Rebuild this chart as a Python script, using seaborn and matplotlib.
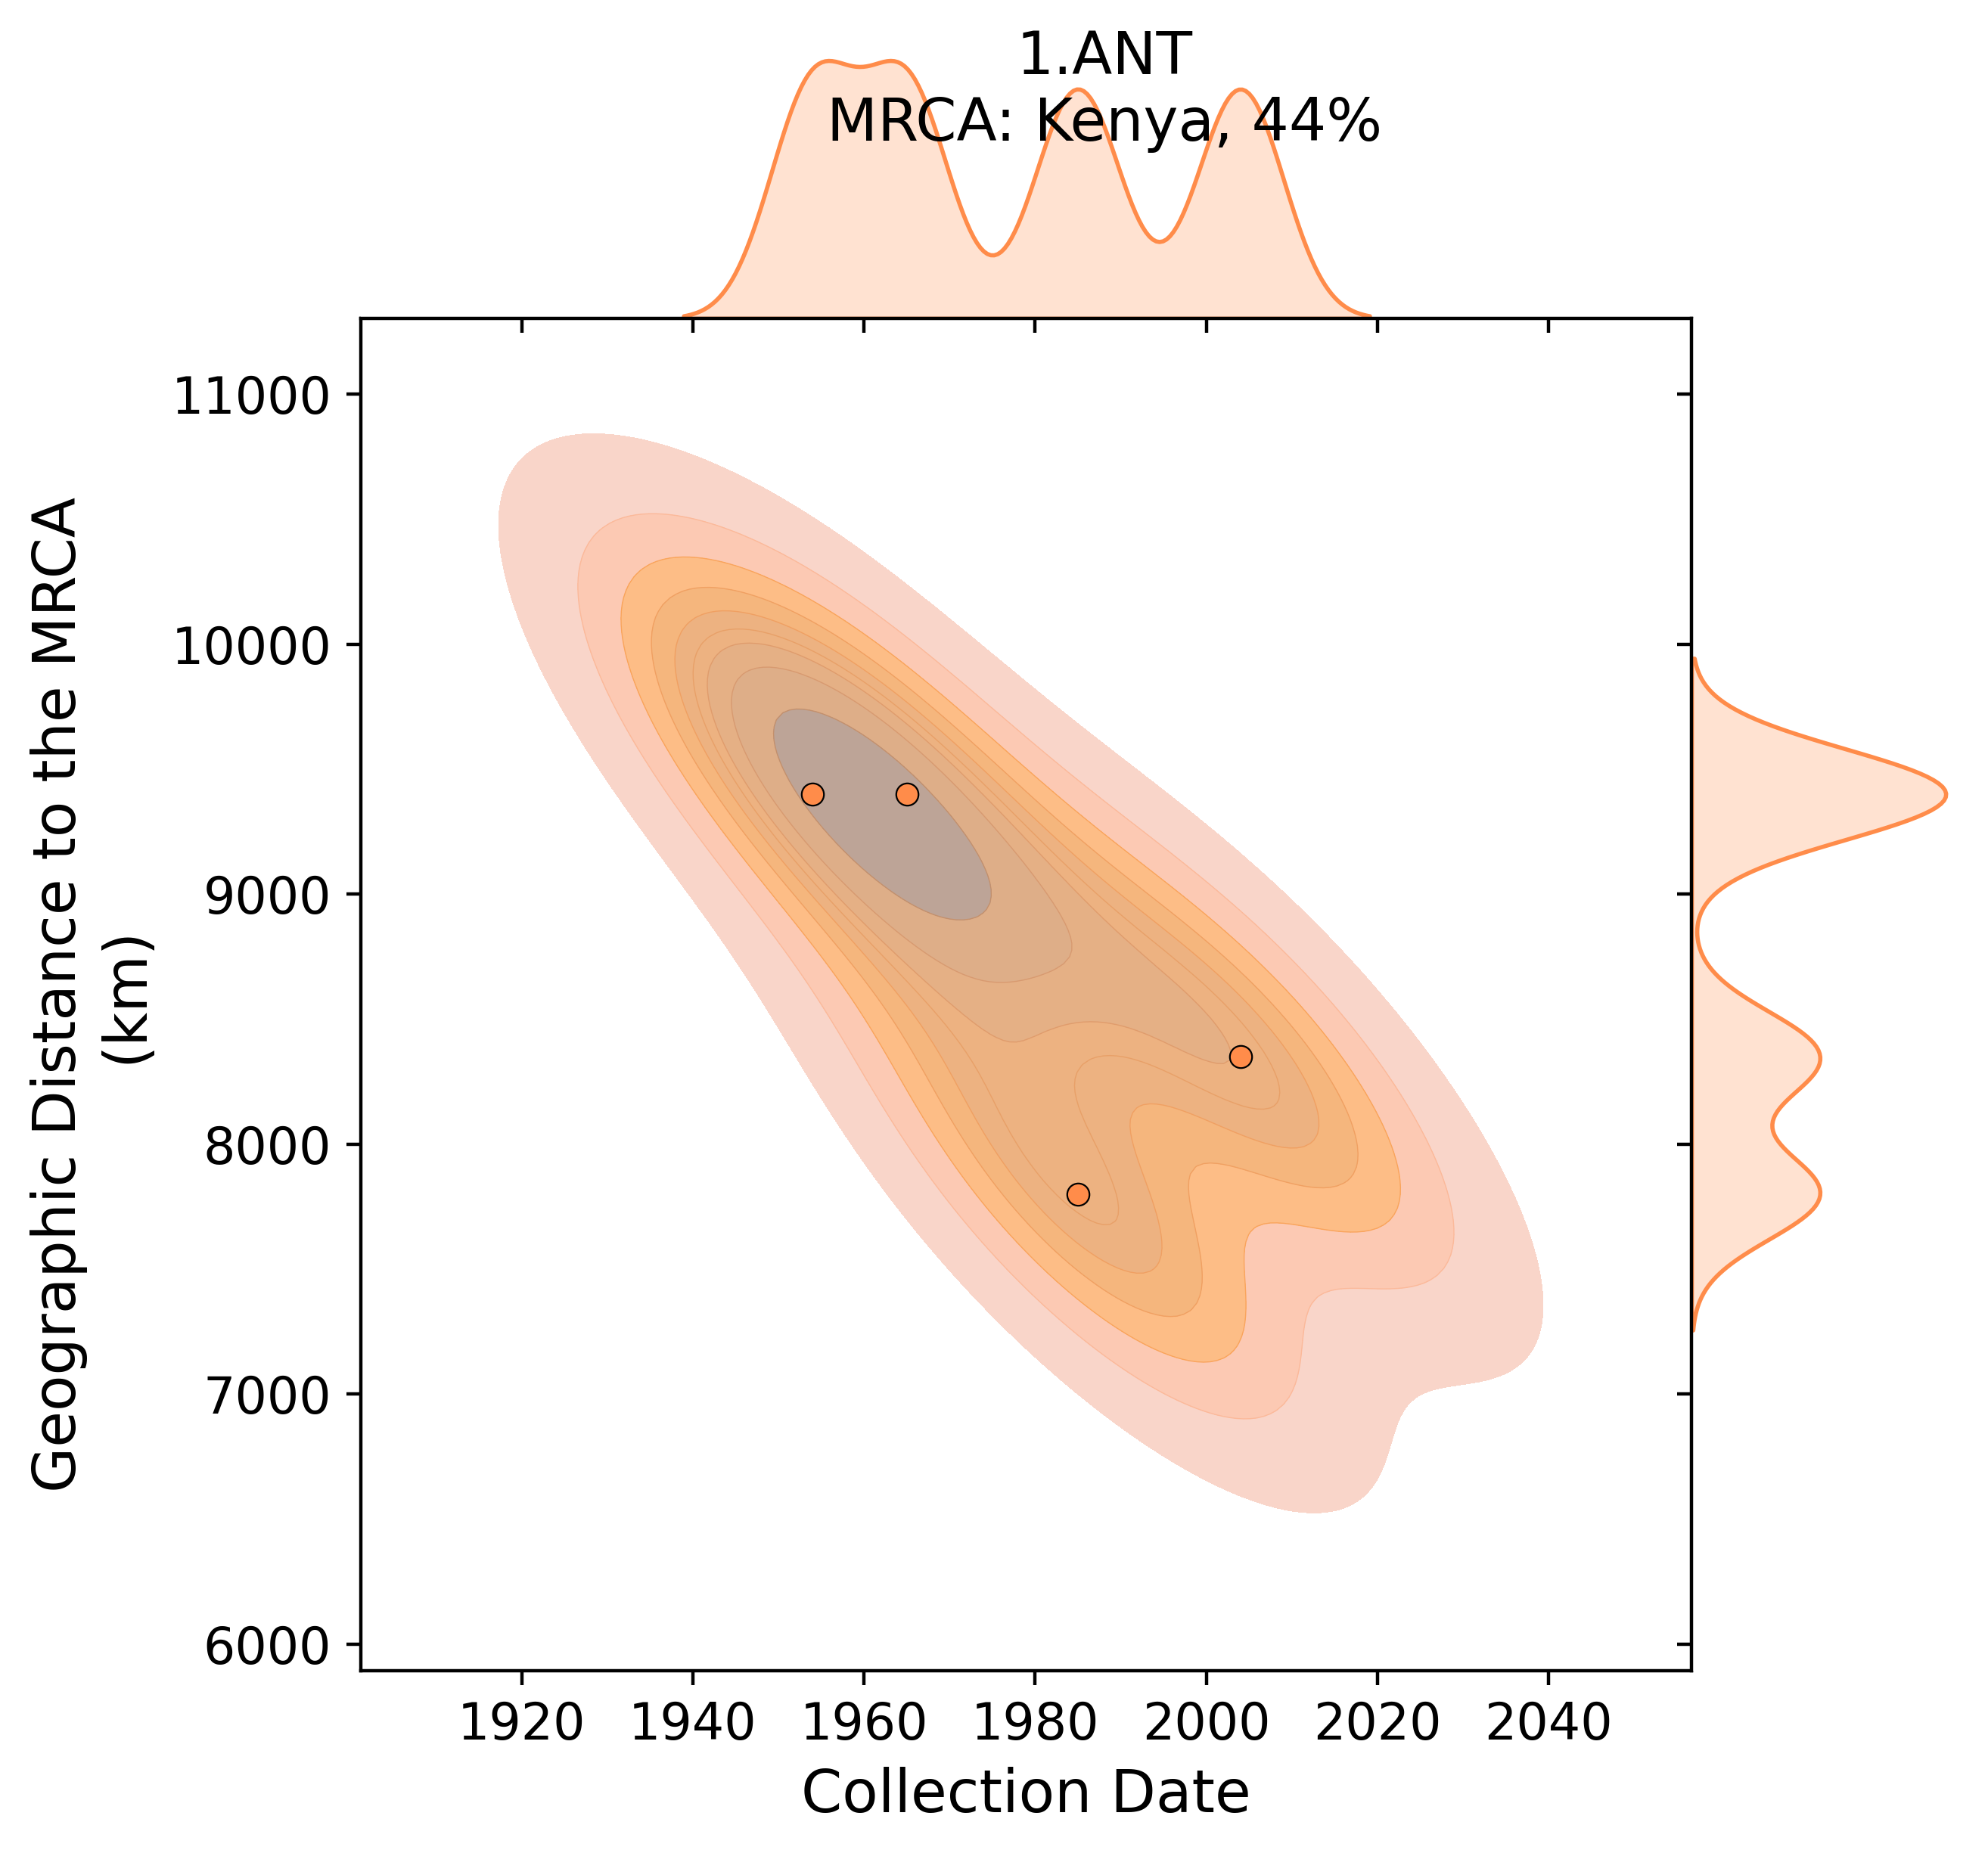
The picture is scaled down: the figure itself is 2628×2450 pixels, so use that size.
#!/usr/bin/env python3
# joint kde of collection date vs distance to the MRCA
import matplotlib
matplotlib.use('Agg')
import matplotlib.pyplot as plt
from matplotlib.colors import ListedColormap
import numpy as np
import pandas as pd
import seaborn as sns

collection_date = [1954, 1965, 1985, 2004]
distance_km = [9400, 9400, 7800, 8350]

# colours of the filled levels, outer to inner, and of the lines between them
fill_colors = ['#f9d5c9', '#fcc9b3', '#fdbd86', '#f5b67d', '#edb281', '#e5b085',
               '#deae88', '#d2a78f', '#bda497']
edge_colors = ['#fbb99a', '#f9a45c', '#f0a062', '#e8a068', '#e09c6c', '#d89a70',
               '#c4906c', '#ac8a72']
line_color = '#ff8c4a'

df = pd.DataFrame({'date': collection_date, 'dist': distance_km})

W, H = 2628, 2450
DPI = 400
g = sns.JointGrid(data=df, x='date', y='dist')
g.figure.set_size_inches(W / DPI, H / DPI)

# axes placement, in pixels of the final image
g.ax_joint.set_position([477 / W, 1 - 2209 / H, 1759 / W, 1788 / H])
g.ax_marg_x.set_position([477 / W, 1 - 421 / H, 1759 / W, 358 / H])
g.ax_marg_y.set_position([2236 / W, 1 - 2209 / H, 353 / W, 1788 / H])

sns.kdeplot(data=df, x='date', y='dist', ax=g.ax_joint, fill=True,
            levels=10, thresh=0.05, cmap=ListedColormap(fill_colors))
# thin lines between levels, none round the outermost one
sns.kdeplot(data=df, x='date', y='dist', ax=g.ax_joint, fill=False,
            levels=np.linspace(0.05, 1, 10)[1:], linewidths=0.25,
            cmap=ListedColormap(edge_colors))
sns.scatterplot(data=df, x='date', y='dist', ax=g.ax_joint, color=line_color,
                edgecolor='black', s=28, linewidth=0.4, zorder=5)
sns.kdeplot(data=df, x='date', ax=g.ax_marg_x, fill=True, color=line_color,
            bw_adjust=0.3, linewidth=1)
sns.kdeplot(data=df, y='dist', ax=g.ax_marg_y, fill=True, color=line_color,
            bw_adjust=0.3, linewidth=1)

g.ax_joint.set_xlim(1901.2, 2056.7)
g.ax_joint.set_ylim(5893, 11304)
g.ax_joint.set_xticks([1920, 1940, 1960, 1980, 2000, 2020, 2040])
g.ax_joint.set_yticks([6000, 7000, 8000, 9000, 10000, 11000])
g.ax_joint.tick_params(labelsize=12)
g.ax_joint.set_xlabel('Collection Date', fontsize=14)
g.ax_joint.set_ylabel('Geographic Distance to the MRCA\n(km)', fontsize=14)

g.ax_marg_x.set_ylim(bottom=0)
g.ax_marg_y.set_xlim(left=0)

g.figure.text(1460 / W, 1 - 120 / H, '1.ANT\nMRCA: Kenya, 44%', ha='center',
              va='center', fontsize=14)

g.figure.savefig('out.png', dpi=DPI)
